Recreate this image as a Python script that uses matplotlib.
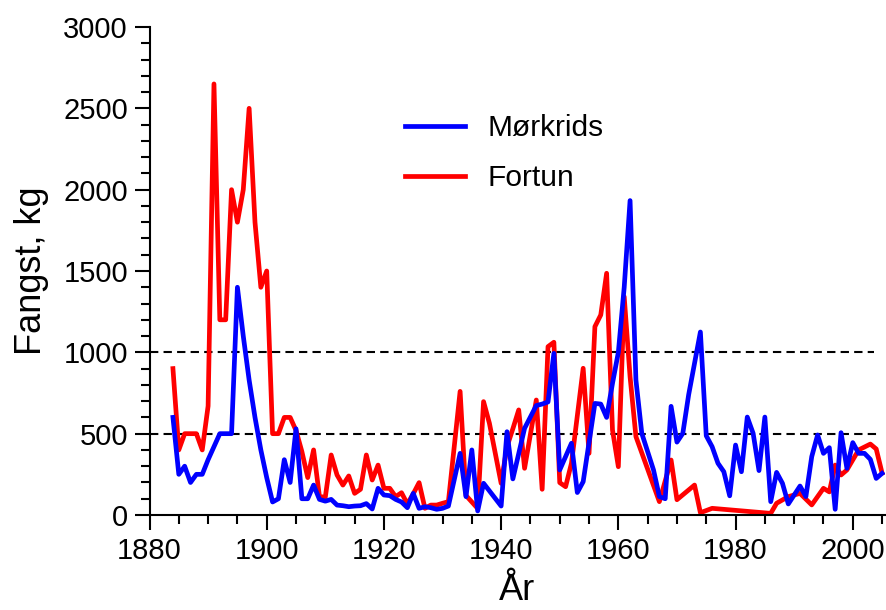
import matplotlib
matplotlib.use("Agg")
import matplotlib.pyplot as plt
from matplotlib.ticker import MultipleLocator

plt.rcParams['font.family'] = ['Liberation Sans', 'DejaVu Sans']

# Mørkrids (blue)
years_m = [1884, 1885, 1886, 1887, 1888, 1889, 1890, 1891, 1892, 1893, 1894, 1895,
           1896, 1897, 1898, 1899, 1900, 1901, 1902, 1903, 1904, 1905, 1906, 1907,
           1908, 1909, 1910, 1911, 1912, 1913, 1914, 1915, 1916, 1917, 1918, 1919,
           1920, 1921, 1922, 1923, 1924, 1925, 1926, 1927, 1928, 1929, 1930, 1931,
           1933, 1934, 1935, 1936, 1937, 1940, 1941, 1942, 1944, 1946, 1947, 1948,
           1949, 1950, 1952, 1953, 1954, 1956, 1957, 1958, 1959, 1960, 1961, 1962,
           1963, 1964, 1966, 1967, 1968, 1969, 1970, 1971, 1972, 1974, 1975, 1976,
           1977, 1978, 1979, 1980, 1981, 1982, 1983, 1984, 1985, 1986, 1987, 1988,
           1989, 1990, 1991, 1992, 1993, 1994, 1995, 1996, 1997, 1998, 1999, 2000,
           2001, 2002, 2003, 2004, 2005]
catch_m = [600, 250, 300, 200, 250, 250, 340, 420, 500, 500, 500, 1400,
           1100, 830, 600, 400, 230, 80, 100, 340, 200, 530, 100, 100,
           184, 96, 85, 96, 61, 57, 51, 55, 57, 70, 37, 164,
           123, 119, 96, 80, 45, 133, 41, 51, 45, 35, 41, 55,
           379, 113, 400, 25, 195, 55, 512, 222, 533, 673, 682, 695,
           994, 277, 441, 138, 205, 686, 682, 600, 809, 1000, 1400, 1933,
           830, 502, 277, 113, 100, 668, 448, 502, 740, 1125, 487, 420,
           318, 266, 118, 430, 266, 602, 502, 273, 602, 82, 262, 195,
           68, 123, 178, 113, 359, 492, 379, 414, 35, 506, 287, 445,
           379, 379, 342, 225, 256]

# Fortun (red)
years_f = [1884, 1885, 1886, 1887, 1888, 1889, 1890, 1891, 1892, 1893, 1894, 1895,
           1896, 1897, 1898, 1899, 1900, 1901, 1902, 1903, 1904, 1905, 1906, 1907,
           1908, 1909, 1910, 1911, 1912, 1913, 1914, 1915, 1916, 1917, 1918, 1919,
           1920, 1921, 1922, 1923, 1924, 1925, 1926, 1927, 1928, 1929, 1930, 1931,
           1933, 1934, 1936, 1937, 1938, 1940, 1941, 1942, 1943, 1944, 1946, 1947,
           1948, 1949, 1950, 1951, 1952, 1954, 1955, 1956, 1957, 1958, 1959, 1960,
           1961, 1962, 1963, 1967, 1969, 1970, 1973, 1974, 1976, 1986, 1987, 1989,
           1991, 1993, 1995, 1996, 1997, 1998, 1999, 2001, 2003, 2004, 2005]
catch_f = [900, 400, 500, 500, 500, 400, 670, 2650, 1200, 1200, 2000, 1800,
           2000, 2500, 1800, 1400, 1500, 500, 500, 600, 600, 520, 390, 230,
           400, 113, 110, 369, 246, 184, 240, 133, 158, 369, 215, 307,
           164, 164, 113, 137, 68, 130, 199, 41, 61, 61, 72, 82,
           760, 120, 40, 697, 564, 195, 420, 530, 646, 287, 707, 158,
           1035, 1062, 199, 174, 318, 902, 379, 1158, 1230, 1486, 523, 297,
           1342, 850, 482, 82, 338, 94, 184, 14, 41, 10, 72, 113,
           133, 62, 164, 142, 307, 246, 277, 400, 436, 406, 258]

labels = ["Mørkrids", "Fortun"]
thresholds = [500, 1000]

fig = plt.figure(figsize=(8.87, 6.10), dpi=100)
ax = fig.add_axes([149.5 / 887, 95 / 610, (885 - 149.5) / 887, (515 - 27) / 610])

ax.hlines(thresholds[1], 1880, 2003.7, colors='black', linestyles=(0, (4, 2.5)), linewidth=1.5, zorder=1)
ax.hlines(thresholds[0], 1880, 2004.8, colors='black', linestyles=(0, (4, 2.5)), linewidth=1.5, zorder=1)

lf, = ax.plot(years_f, catch_f, color='#ff0000', linewidth=3.4, solid_joinstyle='round', zorder=2)
lm, = ax.plot(years_m, catch_m, color='#0000ff', linewidth=3.4, solid_joinstyle='round', zorder=3)

ax.set_xlim(1880, 2005.5)
ax.set_ylim(0, 3000)
ax.xaxis.set_major_locator(MultipleLocator(20))
ax.xaxis.set_minor_locator(MultipleLocator(5))
ax.yaxis.set_major_locator(MultipleLocator(500))
ax.yaxis.set_minor_locator(MultipleLocator(100))

for s in ['top', 'right']:
    ax.spines[s].set_visible(False)
for s in ['left', 'bottom']:
    ax.spines[s].set_linewidth(1.5)

ax.tick_params(which='major', direction='out', length=10.5, width=1.5, labelsize=21, pad=5)
ax.tick_params(which='minor', direction='out', length=6.5, width=1.5)

ax.set_xlabel("År", fontsize=26, labelpad=6)
ax.set_ylabel("Fangst, kg", fontsize=26, labelpad=10)

leg = ax.legend([lm, lf], labels, loc='upper left',
                bbox_to_anchor=(405 / 887, 1 - 114 / 610), bbox_transform=fig.transFigure,
                frameon=False, fontsize=21.5, handlelength=2.0, handletextpad=0.75,
                labelspacing=0.75, borderpad=0, borderaxespad=0)

fig.savefig("out.png", dpi=100)
